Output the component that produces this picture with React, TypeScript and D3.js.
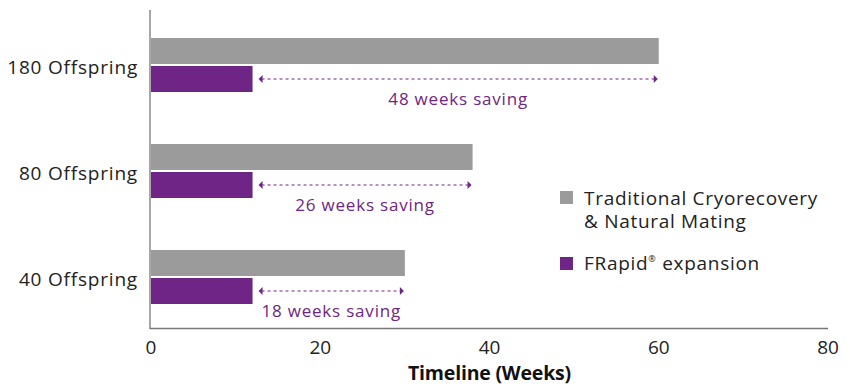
import React from "react";
import * as d3 from "d3";

const categories = ["180 Offspring", "80 Offspring", "40 Offspring"];
const traditional = [60, 38, 30];
const frapid = [12, 12, 12];
const savingLabels = ["48 weeks saving", "26 weeks saving", "18 weeks saving"];
const xTicks = [0, 20, 40, 60, 80];
const legendItems = [
  { lines: ["Traditional Cryorecovery", "& Natural Mating"], color: "#9b9b9b" },
  { lines: ["FRapid", " expansion"], color: "#6f2585" },
];

const W = 850;
const H = 392;
const GRAY = "#9b9b9b";
const PURPLE = "#6f2585";
const FONT = "'Open Sans', sans-serif";

export default function App() {
  const x = d3.scaleLinear().domain([0, 80]).range([151, 828]);
  const y = d3.scaleBand().domain(categories).range([12, 330]).paddingInner(0).paddingOuter(0);
  const barH = 26;
  const gap = 2;
  const groupTop = (c: string) => (y(c) as number) + 26;

  return (
    <svg width={W} height={H} style={{ position: "absolute", left: 0, top: 0, background: "#fff" }}>
      {categories.map((c, i) => {
        const t = groupTop(c);
        const ay = t + barH + gap + barH / 2;
        const x1 = x(frapid[i]) + 6;
        const x2 = x(traditional[i]) - 1;
        return (
          <g key={c}>
            <rect x={x(0)} y={t} width={x(traditional[i]) - x(0)} height={barH} fill={GRAY} />
            <rect x={x(0)} y={t + barH + gap} width={x(frapid[i]) - x(0)} height={barH} fill={PURPLE} />
            <line x1={x1 + 3} x2={x2 - 3} y1={ay} y2={ay} stroke={PURPLE} strokeWidth={1.2} strokeDasharray="3,3" />
            <path d={`M${x1},${ay} L${x1 + 4},${ay - 4} L${x1 + 4},${ay + 4} Z`} fill={PURPLE} />
            <path d={`M${x2},${ay} L${x2 - 4},${ay - 4} L${x2 - 4},${ay + 4} Z`} fill={PURPLE} />
            <text x={(x1 + x2) / 2} y={ay + 26} textAnchor="middle" fontFamily={FONT} fontSize={17} fill={PURPLE} letterSpacing={0.8}>
              {savingLabels[i]}
            </text>
            <text x={138} y={t + barH + gap / 2 + 9} textAnchor="end" fontFamily={FONT} fontSize={19} fill="#222" letterSpacing={0.8}>
              {c}
            </text>
          </g>
        );
      })}
      <line x1={x(0) - 1} x2={x(0) - 1} y1={10} y2={329} stroke="#777" strokeWidth={1.3} />
      <line x1={x(0) - 1} x2={x(80)} y1={328.5} y2={328.5} stroke="#777" strokeWidth={1.3} />
      {xTicks.map((t) => (
        <text key={t} x={x(t)} y={354} textAnchor="middle" fontFamily={FONT} fontSize={19} fill="#222">
          {t}
        </text>
      ))}
      <text x={(x(0) + x(80)) / 2} y={380} textAnchor="middle" fontFamily={FONT} fontWeight="bold" fontSize={19.5} fill="#111" letterSpacing={-0.2}>
        Timeline (Weeks)
      </text>
      <g>
        <rect x={560} y={191} width={13} height={13} fill={legendItems[0].color} />
        <text fontFamily={FONT} fontSize={19} fill="#222" letterSpacing={0.7}>
          <tspan x={584} y={205}>{legendItems[0].lines[0]}</tspan>
          <tspan x={584} y={227.5}>{legendItems[0].lines[1]}</tspan>
        </text>
        <rect x={560} y={257} width={13} height={13} fill={legendItems[1].color} />
        <text x={584} y={270} fontFamily={FONT} fontSize={19} fill="#222" letterSpacing={0.7}>
          {legendItems[1].lines[0]}
          <tspan fontSize={9} dy={-8}>®</tspan>
          <tspan dy={8}>{legendItems[1].lines[1]}</tspan>
        </text>
      </g>
    </svg>
  );
}
